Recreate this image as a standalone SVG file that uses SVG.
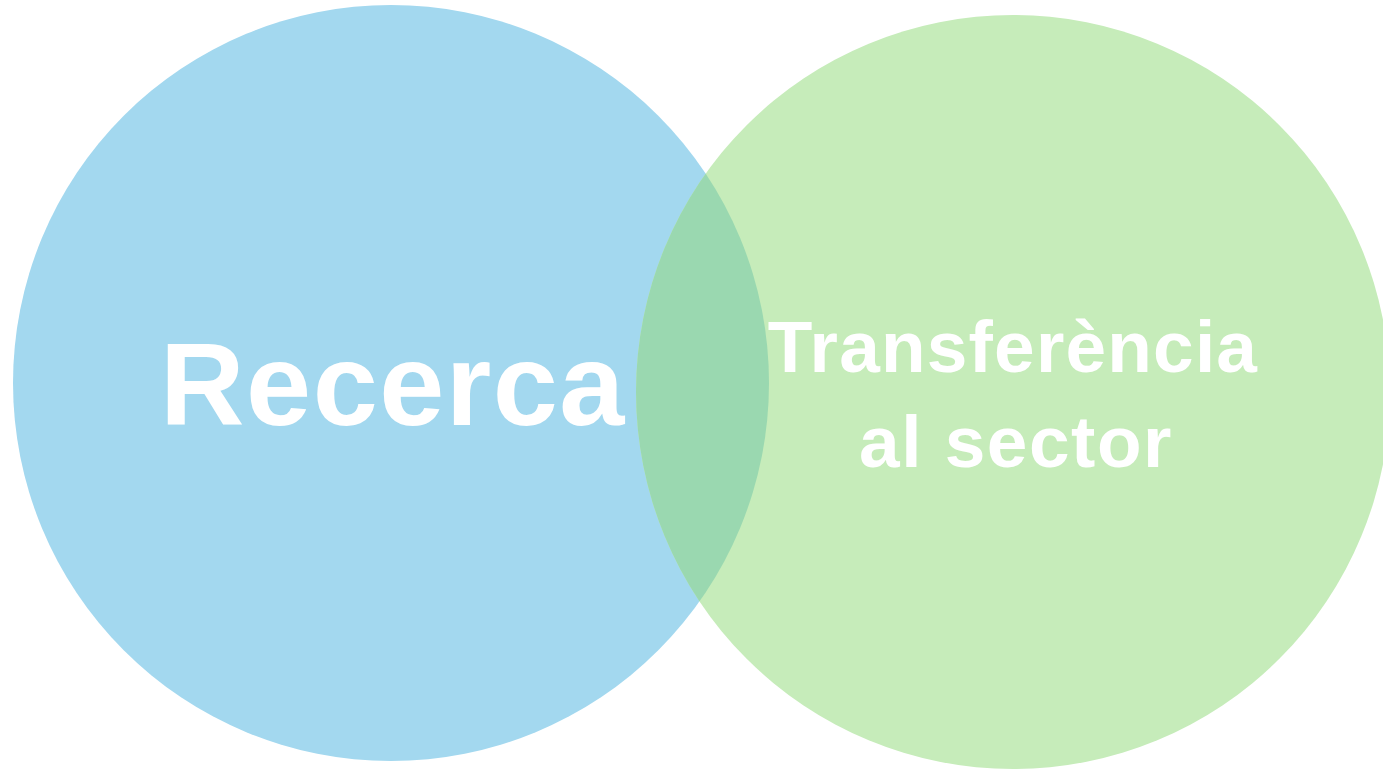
<svg xmlns="http://www.w3.org/2000/svg" width="1383" height="771" viewBox="0 0 1383 771">
<style>
.lbl{font-family:"Liberation Sans",Arial,sans-serif;font-weight:bold;fill:#ffffff;text-anchor:middle}
</style>
<defs>
<clipPath id="clipBlue"><circle cx="391" cy="383" r="378"/></clipPath>
</defs>
<rect width="1383" height="771" fill="#ffffff"/>
<g id="recerca">
<circle cx="391" cy="383" r="378" fill="#A3D8EF"/>
</g>
<g id="transferencia">
<circle cx="1013" cy="392" r="377" fill="#C6ECBA"/>
<circle cx="1013" cy="392" r="377" fill="#9AD8B0" clip-path="url(#clipBlue)"/>
</g>
<g id="labels">
<text class="lbl" x="393" y="425" font-size="117" letter-spacing="1.5">Recerca</text>
<text class="lbl" x="1013" y="372" font-size="73" letter-spacing="1.2">Transferència</text>
<text class="lbl" x="1016" y="467" font-size="73" letter-spacing="1.5">al sector</text>
</g>
<g id="connectors"></g>
</svg>
